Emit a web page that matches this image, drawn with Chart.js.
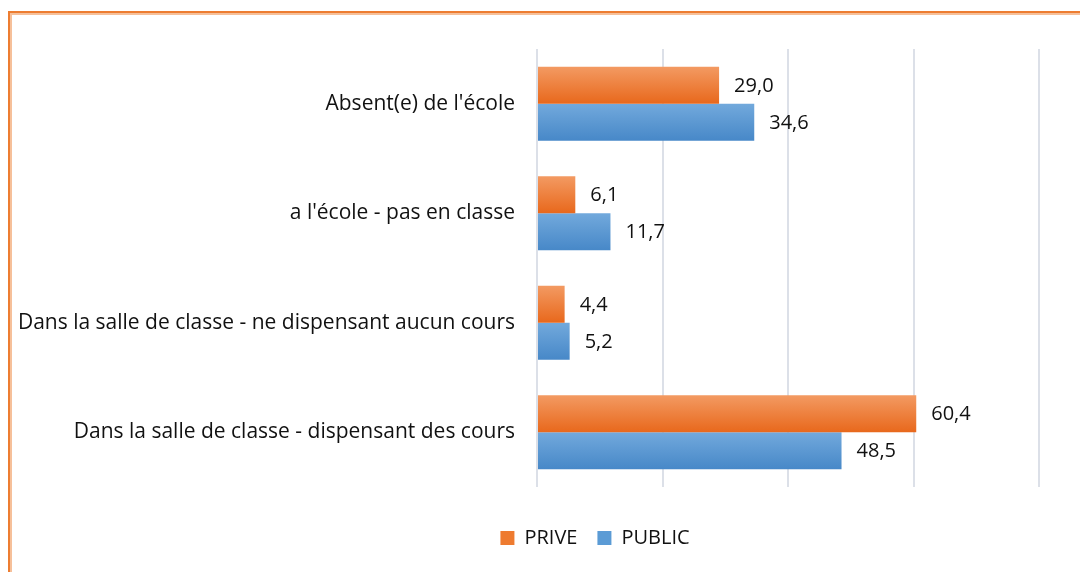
<!DOCTYPE html>
<html>
<head>
<meta charset="utf-8">
<script src="https://cdn.jsdelivr.net/npm/chart.js@4.4.1/dist/chart.umd.min.js"></script>
<style>
  html, body { margin: 0; padding: 0; background: #fff; overflow: hidden; }
  body { width: 1080px; height: 572px; position: relative; }
  .cadre {
    position: absolute; left: 8px; top: 11px; width: 1300px; height: 700px;
    border: 2px solid #ED7D31; box-shadow: inset 0 0 0 2px #F6C09A;
  }
  .zone { position: absolute; left: 0; top: 0; width: 1190px; height: 572px; }
</style>
</head>
<body>
<div class="cadre"></div>
<div class="zone"><canvas id="barChart" width="1190" height="572"></canvas></div>
<script>
// données
var categories = ["Absent(e) de l'école", "a l'école - pas en classe", "Dans la salle de classe - ne dispensant aucun cours", "Dans la salle de classe - dispensant des cours"];
var prive = [29.0, 6.1, 4.4, 60.4];
var publicVals = [34.6, 11.7, 5.2, 48.5];
var xTicks = [0, 20, 40, 60, 80];

Chart.defaults.font.family = 'Open Sans';
Chart.defaults.font.size = 20;
Chart.defaults.color = '#111';

// dégradé vertical pour chaque barre
var gradientPlugin = {
  id: 'gradientBars',
  beforeDatasetsDraw: function(chart) {
    var ctx = chart.ctx;
    var colors = [['#F39A62', '#E8681C'], ['#72A9DC', '#4788C8']];
    chart.data.datasets.forEach(function(ds, i) {
      chart.getDatasetMeta(i).data.forEach(function(bar) {
        var top = bar.y - bar.height / 2;
        var g = ctx.createLinearGradient(0, top, 0, top + bar.height);
        g.addColorStop(0, colors[i][0]);
        g.addColorStop(1, colors[i][1]);
        bar.options.backgroundColor = g;
      });
    });
  }
};

// étiquettes de valeurs
var labelPlugin = {
  id: 'valueLabels',
  afterDatasetsDraw: function(chart) {
    var ctx = chart.ctx;
    ctx.save();
    ctx.font = '20px "Open Sans"';
    ctx.fillStyle = '#111';
    ctx.textAlign = 'left';
    ctx.textBaseline = 'middle';
    chart.data.datasets.forEach(function(ds, i) {
      chart.getDatasetMeta(i).data.forEach(function(bar, j) {
        ctx.fillText(ds.data[j].toFixed(1).replace('.', ','), bar.x + 15, bar.y + 1);
      });
    });
    ctx.restore();
  }
};

var barChart = document.getElementById('barChart');
var myChart = new Chart(barChart, {
  type: 'bar',
  data: {
    labels: categories,
    datasets: [{
      label: 'PRIVE',
      data: prive,
      backgroundColor: function() { return '#EE7B30'; },
      categoryPercentage: 0.675,
      barPercentage: 1,
    }, {
      label: 'PUBLIC',
      data: publicVals,
      backgroundColor: function() { return '#5B9BD5'; },
      categoryPercentage: 0.675,
      barPercentage: 1,
    }]
  },
  options: {
    indexAxis: 'y',
    responsive: false,
    animation: false,
    layout: {
      padding: { top: 49, right: 0, bottom: 14, left: 0 }
    },
    scales: {
      x: {
        min: 0,
        max: 104,
        afterBuildTicks: function(scale) {
          scale.ticks = xTicks.map(function(v) { return { value: v }; });
        },
        afterFit: function(scale) { scale.height = 21; },
        grid: {
          color: '#DCE0E8',
          lineWidth: 2,
          drawTicks: false,
        },
        border: { display: false },
        ticks: { display: false },
      },
      y: {
        afterFit: function(scale) { scale.width = 537; },
        grid: { display: false, drawTicks: false },
        border: { display: false },
        ticks: { padding: 22, color: '#111', font: { size: 21 } },
      }
    },
    plugins: {
      legend: {
        position: 'bottom',
        labels: {
          boxWidth: 14,
          boxHeight: 14,
          padding: 20,
          color: '#111',
          font: { size: 20 },
        }
      },
      tooltip: { enabled: false },
    },
    events: [],
  },
  plugins: [gradientPlugin, labelPlugin]
});
</script>
</body>
</html>
